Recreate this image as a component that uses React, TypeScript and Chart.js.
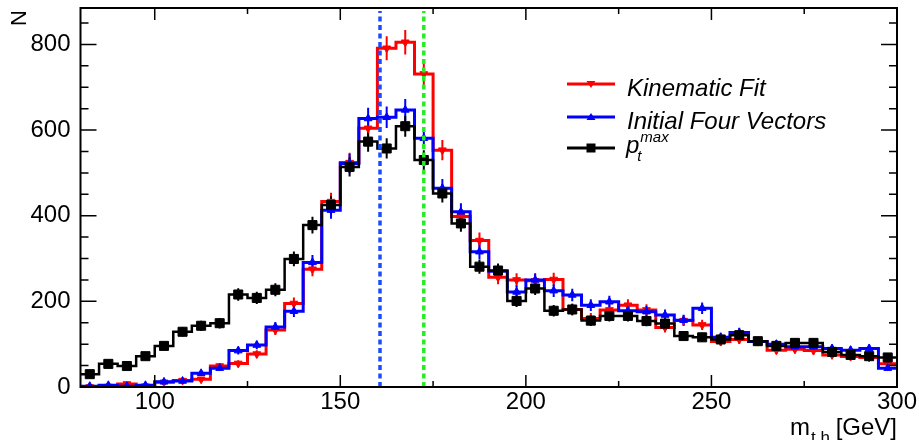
import React, { useEffect, useRef } from 'react';
import { Chart, registerables } from 'chart.js';

Chart.register(...registerables);

// Histogram binning (GeV)
const X_MIN = 80;
const X_MAX = 300;
const BIN_WIDTH = 5;

// Bin contents, 44 bins of 5 GeV from 80 to 300 GeV
const kinematicFit = [
  0, 1, 7, 2, 11, 15, 18, 49, 55, 77,
  133, 195, 275, 433, 524, 604, 791, 805, 731, 553,
  398, 342, 256, 250, 248, 251, 181, 160, 180, 191,
  180, 139, 155, 145, 106, 111, 106, 86, 88, 85,
  75, 71, 69, 54,
];
const initialFourVectors = [
  2, 4, 2, 4, 12, 14, 32, 44, 85, 98,
  140, 177, 291, 413, 522, 627, 630, 647, 581, 464,
  409, 316, 270, 222, 250, 225, 215, 191, 199, 178,
  176, 168, 156, 184, 116, 127, 106, 100, 94, 94,
  90, 86, 90, 44,
];
const ptMax = [
  30, 54, 49, 72, 96, 129, 143, 149, 216, 208,
  227, 299, 378, 425, 514, 573, 557, 609, 530, 452,
  382, 281, 272, 201, 230, 178, 181, 155, 166, 166,
  154, 148, 119, 116, 111, 121, 107, 96, 103, 103,
  82, 75, 72, 69,
];

const yTicks = [0, 200, 400, 600, 800];
const xTicks = [100, 150, 200, 250, 300];
const Y_MAX = 885;
const blueRefLine = 160.7;
const greenRefLine = 172.5;

const legendLabels = ['Kinematic Fit', 'Initial Four Vectors'];

const FONT = '"Liberation Sans", Arial, Helvetica, sans-serif';
const RED = '#ff0000';
const BLUE = '#0000ff';
const BLACK = '#000000';

const stepData = (vals: number[]) => {
  const pts = vals.map((v, i) => ({ x: X_MIN + i * BIN_WIDTH, y: v }));
  pts.push({ x: X_MAX, y: vals[vals.length - 1] });
  return pts;
};
const centerData = (vals: number[]) =>
  vals.map((v, i) => ({ x: X_MIN + (i + 0.5) * BIN_WIDTH, y: v }));

const series = [
  { label: legendLabels[0], vals: kinematicFit, color: RED, style: 'triangle', rot: 180, r: 4.5, order: 3 },
  { label: legendLabels[1], vals: initialFourVectors, color: BLUE, style: 'triangle', rot: 0, r: 4.5, order: 2 },
  { label: 'pt', vals: ptMax, color: BLACK, style: 'rect', rot: 0, r: 6.4, order: 1 },
];

const overlayPlugin = {
  id: 'rootStyle',
  beforeDatasetsDraw(chart: any) {
    const { ctx, chartArea: a, scales } = chart;
    const xs = scales.x;
    const ys = scales.y;
    ctx.save();
    ctx.beginPath();
    ctx.rect(a.left, a.top, a.right - a.left, a.bottom - a.top);
    ctx.clip();
    // error bars
    series.forEach((s) => {
      ctx.strokeStyle = s.color;
      ctx.lineWidth = 2;
      s.vals.forEach((v, i) => {
        if (v <= 0) return;
        const e = Math.sqrt(v);
        const px = xs.getPixelForValue(X_MIN + (i + 0.5) * BIN_WIDTH);
        ctx.beginPath();
        ctx.moveTo(px, ys.getPixelForValue(v - e));
        ctx.lineTo(px, ys.getPixelForValue(v + e));
        ctx.stroke();
      });
    });
    ctx.restore();
  },
  afterDatasetsDraw(chart: any) {
    const { ctx, chartArea: a, scales } = chart;
    const xs = scales.x;
    const ys = scales.y;
    ctx.save();
    // reference lines
    const refs = [
      { v: blueRefLine, c: '#1a4dff' },
      { v: greenRefLine, c: '#22ee22' },
    ];
    refs.forEach((r) => {
      const px = xs.getPixelForValue(r.v);
      ctx.strokeStyle = r.c;
      ctx.lineWidth = 3.5;
      ctx.setLineDash([5, 3.5]);
      ctx.beginPath();
      ctx.moveTo(px, a.bottom);
      ctx.lineTo(px, a.top + 3);
      ctx.stroke();
    });
    ctx.setLineDash([]);

    // frame
    ctx.strokeStyle = '#000';
    ctx.lineWidth = 2;
    ctx.strokeRect(a.left, a.top, a.right - a.left, a.bottom - a.top);

    // ticks (inward, all four sides)
    ctx.lineWidth = 1.5;
    for (let v = 75; v <= X_MAX; v += 25) {
      if (v < X_MIN) continue;
      const px = xs.getPixelForValue(v);
      const len = v % 50 === 0 ? 12 : 6;
      ctx.beginPath();
      ctx.moveTo(px, a.bottom);
      ctx.lineTo(px, a.bottom - len);
      ctx.moveTo(px, a.top);
      ctx.lineTo(px, a.top + len);
      ctx.stroke();
    }
    for (let v = 0; v <= Y_MAX; v += 50) {
      const py = ys.getPixelForValue(v);
      const len = v % 200 === 0 ? 16 : 8;
      ctx.beginPath();
      ctx.moveTo(a.left, py);
      ctx.lineTo(a.left + len, py);
      ctx.moveTo(a.right, py);
      ctx.lineTo(a.right - len, py);
      ctx.stroke();
    }

    // y title
    ctx.fillStyle = '#000';
    ctx.save();
    ctx.translate(17.5, 26);
    ctx.rotate(-Math.PI / 2);
    ctx.font = `22px ${FONT}`;
    ctx.textAlign = 'left';
    ctx.textBaseline = 'alphabetic';
    ctx.fillText('N', 0, 8);
    ctx.restore();

    // x title: m_{t,h} [GeV], right aligned to axis end
    ctx.font = `24px ${FONT}`;
    const wM = ctx.measureText('m').width;
    const wRest = ctx.measureText(' [GeV]').width;
    ctx.font = `17px ${FONT}`;
    const wSub = ctx.measureText('t,h').width;
    const x0 = a.right - (wM + wSub + wRest);
    const base = 435;
    ctx.textAlign = 'left';
    ctx.textBaseline = 'alphabetic';
    ctx.font = `24px ${FONT}`;
    ctx.fillText('m', x0, base);
    ctx.font = `17px ${FONT}`;
    ctx.fillText('t,h', x0 + wM + 1, base + 8);
    ctx.font = `24px ${FONT}`;
    ctx.fillText(' [GeV]', x0 + wM + wSub, base);

    // legend
    const lx0 = 567;
    const lx1 = 615;
    const lxc = (lx0 + lx1) / 2;
    const rows = [84, 117, 148];
    series.forEach((s, k) => {
      const y = rows[k];
      ctx.strokeStyle = s.color;
      ctx.fillStyle = s.color;
      ctx.lineWidth = 3;
      ctx.beginPath();
      ctx.moveTo(lx0, y);
      ctx.lineTo(lx1, y);
      ctx.stroke();
      ctx.beginPath();
      if (s.style === 'rect') {
        ctx.rect(lxc - 4.5, y - 4.5, 9, 9);
      } else if (s.rot === 180) {
        ctx.moveTo(lxc - 4.5, y - 3);
        ctx.lineTo(lxc + 4.5, y - 3);
        ctx.lineTo(lxc, y + 4);
      } else {
        ctx.moveTo(lxc - 4.5, y + 3);
        ctx.lineTo(lxc + 4.5, y + 3);
        ctx.lineTo(lxc, y - 4);
      }
      ctx.closePath();
      ctx.fill();
    });
    ctx.fillStyle = '#000';
    ctx.textAlign = 'left';
    ctx.textBaseline = 'alphabetic';
    ctx.font = `italic 24px ${FONT}`;
    ctx.fillText(legendLabels[0], 627, 96);
    ctx.fillText(legendLabels[1], 627, 129);
    ctx.fillText('p', 626, 153);
    const wp = ctx.measureText('p').width;
    ctx.font = `italic 15px ${FONT}`;
    ctx.fillText('max', 626 + wp + 1, 142);
    ctx.fillText('t', 626 + wp - 2, 161);
    ctx.restore();
  },
};

export default function App() {
  const ref = useRef<HTMLCanvasElement | null>(null);
  useEffect(() => {
    document.body.style.margin = '0';
    const canvas = ref.current;
    if (!canvas) return;
    const datasets: any[] = [];
    series.forEach((s) => {
      datasets.push({
        type: 'line',
        data: stepData(s.vals),
        borderColor: s.color,
        borderWidth: s.color === BLACK ? 2.5 : 3,
        stepped: 'before',
        pointRadius: 0,
        fill: false,
        order: s.order * 2 + 1,
      });
      datasets.push({
        type: 'line',
        data: centerData(s.vals),
        showLine: false,
        pointStyle: s.style,
        pointRotation: s.rot,
        pointRadius: s.r,
        pointBackgroundColor: s.color,
        pointBorderColor: s.color,
        pointBorderWidth: 1,
        order: s.order * 2,
      });
    });
    const chart = new Chart(canvas, {
      type: 'line',
      data: { datasets },
      options: {
        responsive: false,
        animation: false,
        layout: { padding: { left: 0, top: 8, right: 22, bottom: 0 } },
        plugins: { legend: { display: false }, tooltip: { enabled: false } },
        scales: {
          x: {
            type: 'linear',
            min: X_MIN,
            max: X_MAX,
            grid: { display: false, drawTicks: false },
            border: { display: false },
            ticks: {
              color: '#000',
              font: { family: FONT, size: 24 },
              padding: 1,
              maxRotation: 0,
              autoSkip: false,
            },
            afterBuildTicks: (s: any) => {
              s.ticks = xTicks.map((v) => ({ value: v }));
            },
            afterFit: (s: any) => {
              s.height = 53;
              s.paddingLeft = 0;
              s.paddingRight = 0;
            },
          },
          y: {
            type: 'linear',
            min: 0,
            max: Y_MAX,
            grid: { display: false, drawTicks: false },
            border: { display: false },
            ticks: {
              color: '#000',
              font: { family: FONT, size: 24 },
              padding: 10,
            },
            afterBuildTicks: (s: any) => {
              s.ticks = yTicks.map((v) => ({ value: v }));
            },
            afterFit: (s: any) => {
              s.width = 80.5;
              s.paddingTop = 0;
              s.paddingBottom = 0;
            },
          },
        },
      } as any,
      plugins: [overlayPlugin],
    });
    return () => chart.destroy();
  }, []);
  return (
    <div style={{ width: 919, height: 440, background: '#fff' }}>
      <canvas ref={ref} width={919} height={440} />
    </div>
  );
}
